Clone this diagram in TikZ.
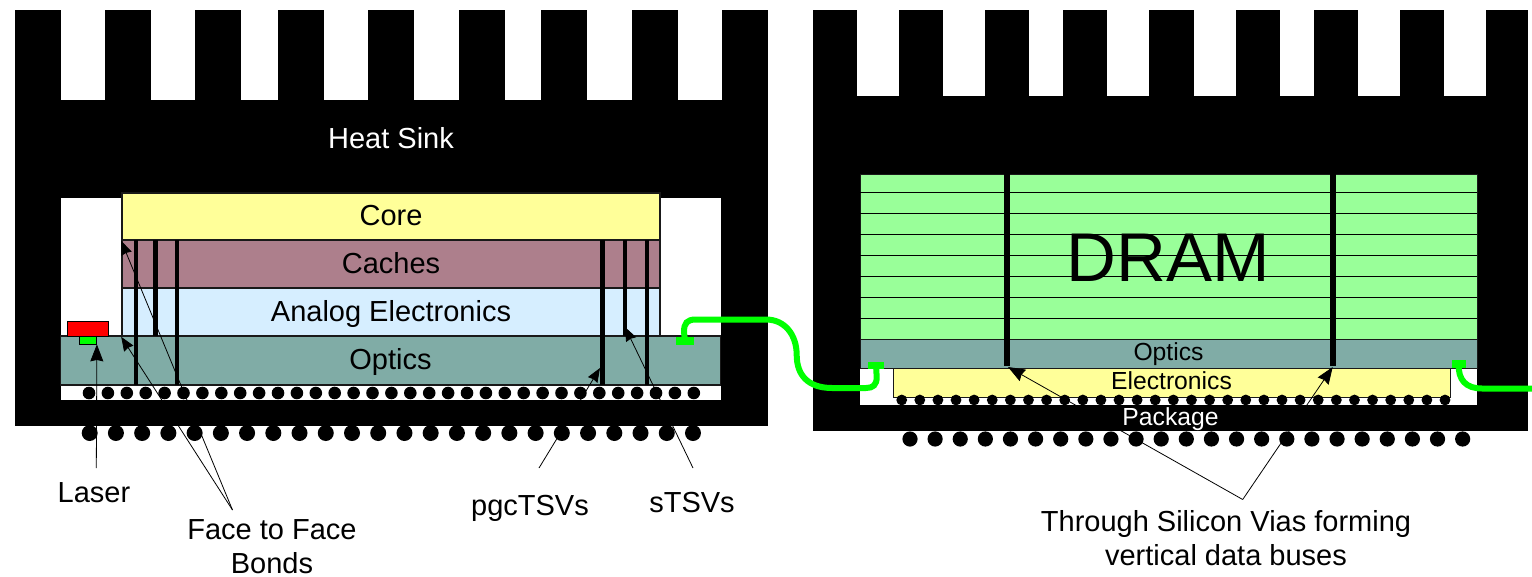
\documentclass[tikz,border=0pt]{standalone}
\usepackage{fontspec}
\usepackage{xcolor}
\usepackage{tikz}
\usetikzlibrary{arrows.meta}
\setmainfont{Liberation Sans}
\definecolor{corefill}{HTML}{FFFF99}
\definecolor{cachefill}{HTML}{AD7F8C}
\definecolor{analogfill}{HTML}{D6EEFF}
\definecolor{opticsfill}{HTML}{80ACA6}
\definecolor{dramfill}{HTML}{99FF99}
\definecolor{wirefill}{HTML}{00FF00}
\newcommand{\bigtext}{\fontsize{29}{34.5}\selectfont}
\newcommand{\smalltext}{\fontsize{24.7}{30}\selectfont}

\begin{document}
\begin{tikzpicture}[
  x=1pt,
  y=-1pt,
  layer/.style={rectangle,draw=black!90,line width=1.6pt,inner sep=0pt,text height=19pt,text depth=0pt,font=\bigtext},
  thinlayer/.style={layer,line width=1pt,text height=14.5pt,font=\smalltext},
  chip/.style={rectangle,draw=black,line width=0.8pt,inner sep=0pt},
  pad/.style={rectangle,fill=wirefill,inner sep=0pt},
  tsv/.style={line width=4.4pt},
  bus/.style={line width=6pt},
  wire/.style={draw=wirefill,line width=6pt},
  callout/.style={line width=0.8pt},
  tipped/.style={callout,-{Stealth[length=14pt,width=11pt,inset=1pt]}},
  bigtipped/.style={callout,-{Stealth[length=17pt,width=13pt,inset=1.5pt]}},
  caption/.style={font=\bigtext,align=center,anchor=base,inner sep=0pt}
]
  \useasboundingbox (0,0) rectangle (1532,576);
  \fill (14.5,100) rectangle (768,426);
  \foreach \a/\b in {14.5/60.5,105/151,195/241,278/324,368/414,458.5/505,541/587,632/678,722/768}
    \fill (\a,9.5) rectangle (\b,101);
  \fill[white] (60.5,197.5) rectangle (721,399.5);
  \fill (813,96) rectangle (1528,431);
  \foreach \a/\b in {813/857,899/943,985/1029,1063/1107,1149/1194,1236/1280,1314/1358,1400/1444,1486/1528}
    \fill (\a,9.5) rectangle (\b,97);
  \fill[white] (860,368) rectangle (1477,405);
  \node[caption,white] (sink) at (391,148) {Heat Sink};
  \node[layer,fill=corefill,minimum width=538pt,minimum height=47pt,text height=18pt] (core) at (391,216.5) {Core};
  \node[layer,fill=cachefill,minimum width=538pt,minimum height=48pt] (caches) at (391,264) {Caches};
  \node[layer,fill=analogfill,minimum width=538pt,minimum height=48pt] (analog) at (391,312) {Analog Electronics};
  \node[layer,fill=opticsfill,minimum width=660pt,minimum height=48.5pt,text height=17pt] (optics) at (390.5,360.5) {Optics};
  \node[chip,fill=red,minimum width=41pt,minimum height=15.5pt] (laser) at (87.7,328.7) {};
  \node[chip,fill=wirefill,minimum width=17pt,minimum height=8pt] (light) at (88,340) {};
  \foreach \x in {135.8,177,602.3,647}
    \draw[tsv] (\x,240) -- (\x,385);
  \foreach \x in {155.3,625}
    \draw[tsv] (\x,240) -- (\x,336);
  \foreach \i in {0,...,32}
    \fill ({89+18.9*\i},393) circle (6.3pt);
  \foreach \i in {0,...,23}
    \fill ({89.7+26.23*\i},433) circle (8pt);
  \node[layer,line width=0.8pt,fill=dramfill,minimum width=617pt,minimum height=165pt,text height=50pt,font=\fontsize{69}{80}\selectfont] (dram) at (1168.5,256.5) {DRAM};
  \foreach \y in {192.3,213.3,234.3,255.3,276.3,297.3,318.3}
    \draw[line width=1pt] (860,\y) -- (1477,\y);
  \node[thinlayer,fill=opticsfill,minimum width=617pt,minimum height=29pt] (dramoptics) at (1168.5,353.5) {Optics};
  \node[thinlayer,line width=0.8pt,fill=corefill,minimum width=557pt,minimum height=29pt] (electronics) at (1171.5,382.5) {Electronics};
  \foreach \x in {1007,1332.7}
    \draw[bus] (\x,174) -- (\x,366);
  \foreach \i in {0,...,30}
    \fill ({901.7+18.11*\i},400) circle (5.4pt);
  \foreach \i in {0,...,22}
    \fill ({910+25.12*\i},439) circle (7.6pt);
  \node[caption,white,font=\smalltext] (package) at (1170.5,425.5) {Package};
  \node[pad,minimum width=18pt,minimum height=8pt] (padleft) at (685,341) {};
  \node[pad,minimum width=16pt,minimum height=7pt] (padmid) at (876,365) {};
  \node[pad,minimum width=14pt,minimum height=8pt] (padright) at (1458.7,364) {};
  \coordinate (wireend) at (1532,388.5);
  \draw[wire] (padleft.center) -- (684,332) .. controls (684,323) and (687,319.5) .. (696,319.5) -- (766,319.5) .. controls (785,319.5) and (796.7,335) .. (796.7,355) .. controls (796.7,375) and (808,388) .. (832,388) -- (866,388) .. controls (873,388) and (876.7,385) .. (876.7,377) -- (padmid.center);
  \draw[wire] (padright.center) .. controls (1458,380) and (1466,388.5) .. (1482,388.5) -- (wireend);
  \node[caption] (laserlabel) at (94,502) {Laser};
  \node[caption] (bondlabel) at (272,573.5) {Face to Face\\Bonds};
  \node[caption] (pgclabel) at (530,515) {pgcTSVs};
  \node[caption] (slabel) at (692,512) {sTSVs};
  \node[caption] (buslabel) at (1226,565.5) {Through Silicon Vias forming\\vertical data buses};
  \coordinate (laserend) at (96.3,468);
  \coordinate (bondapex) at (232.5,510);
  \coordinate (pgcend) at (539,468);
  \coordinate (pgctip) at (600,368);
  \coordinate (send) at (693,468);
  \coordinate (stip) at (625,327);
  \coordinate (busapex) at (1242.7,499.5);
  \coordinate (bustipa) at (1008,367);
  \coordinate (bustipb) at (1332.7,367);
  \draw[bigtipped] (laserend) -- (light.south east);
  \draw[tipped] (bondapex) -- (core.south west);
  \draw[tipped] (bondapex) -- (analog.south west);
  \draw[tipped] (pgcend) -- (pgctip);
  \draw[tipped] (send) -- (stip);
  \draw[bigtipped] (busapex) -- (bustipa);
  \draw[bigtipped] (busapex) -- (bustipb);
\end{tikzpicture}
\end{document}
